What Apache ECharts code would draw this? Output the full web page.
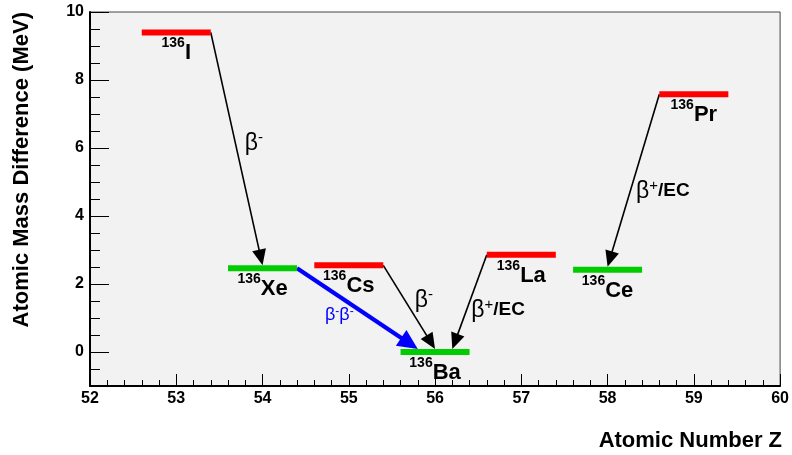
<!DOCTYPE html>
<html><head><meta charset="utf-8">
<script src="https://cdn.jsdelivr.net/npm/echarts@6/dist/echarts.min.js"></script>
<style>html,body{margin:0;padding:0;background:#fff}#c{width:792px;height:455px}</style>
</head><body><div id="c"></div>
<script>
// ---------------- data ----------------
const massNumber = '136';
const nuclides = ['I', 'Xe', 'Cs', 'Ba', 'La', 'Ce', 'Pr'];
const atomicNumber = [53, 54, 55, 56, 57, 58, 59];
const massDifference = [9.40, 2.46, 2.55, 0.00, 2.86, 2.42, 7.58]; // MeV, relative to 136Ba
const isStable = [false, true, false, true, false, true, false];
const decayParent = ['I', 'Cs', 'La', 'Pr', 'Xe'];
const decayDaughter = ['Xe', 'Ba', 'Ba', 'Ce', 'Ba'];
const decayMode = ['β-', 'β-', 'β+/EC', 'β+/EC', 'β-β-'];
const xTickValues = [52, 53, 54, 55, 56, 57, 58, 59, 60];
const yTickValues = [0, 2, 4, 6, 8, 10];
const yMinorTickValues = [-0.5, 0.5, 1, 1.5, 2.5, 3, 3.5, 4.5, 5, 5.5, 6.5, 7, 7.5, 8.5, 9, 9.5];
const xAxisTitle = 'Atomic Number Z';
const yAxisTitle = 'Atomic Mass Difference (MeV)';

// ---------------- layout / style ----------------
const FONT = '"Liberation Sans", Arial, Helvetica, sans-serif';
const levelHalfWidth = 0.4;
const arrowTipShift = [0, 0, 0.2, 0, -0.2];
const modeLabelAt = [[53.90, 6.14], [55.87, 1.52], [56.73, 1.23], [58.64, 4.73], [54.89, 1.08]];
const arrowStyle = {
  single: { color: '#000000', width: 1.6, headLen: 16, headHalf: 7 },
  double: { color: '#0000ff', width: 4.2, headLen: 20, headHalf: 9.5 }
};

const idx = n => nuclides.indexOf(n);
const levelData = nuclides.map((n, i) => [atomicNumber[i], massDifference[i], i]);
const arrowData = decayParent.map((p, k) => {
  const a = idx(p), b = idx(decayDaughter[k]);
  const dir = Math.sign(atomicNumber[b] - atomicNumber[a]);
  return [atomicNumber[a] + dir * levelHalfWidth, massDifference[a],
          atomicNumber[b] + arrowTipShift[k], massDifference[b], k];
});
const modeData = decayMode.map((m, k) => [modeLabelAt[k][0], modeLabelAt[k][1], k]);

function modeRich(str, dbl) {
  let out = '';
  const b = dbl ? 'bb' : 'b', s = dbl ? 'ss' : 's';
  for (let i = 0; i < str.length; i++) {
    const c = str[i];
    if (c === 'β') {
      out += '{' + b + '|β}';
      const n = str[i + 1];
      if (n === '-' || n === '+') { out += '{' + s + '|' + n + '}'; i++; }
    } else {
      out += '{e|' + str.slice(i) + '}';
      break;
    }
  }
  return out;
}

const chart = echarts.init(document.getElementById('c'), null, { renderer: 'canvas' });

const axisFont = { fontFamily: FONT, fontSize: 16, fontWeight: 'bold', color: '#000' };

chart.setOption({
  animation: false,
  backgroundColor: '#ffffff',
  grid: { left: 90, right: 10, top: 12, bottom: 69, show: true, backgroundColor: '#f2f2f2', borderColor: '#444', borderWidth: 1 },
  xAxis: {
    type: 'value', min: 52, max: 60, interval: 1,
    axisLine: { show: true, onZero: false, lineStyle: { color: '#000', width: 2 } },
    axisTick: { show: true, inside: true, length: 12, lineStyle: { color: '#000', width: 1 } },
    minorTick: { show: true, splitNumber: 5, length: 6, lineStyle: { color: '#000', width: 1 } },
    axisLabel: Object.assign({ margin: 5, customValues: xTickValues }, axisFont),
    splitLine: { show: false }
  },
  yAxis: [{
    type: 'value', min: -1, max: 10, position: 'left',
    axisLine: { show: true, onZero: false, lineStyle: { color: '#000', width: 2 } },
    axisTick: { show: true, inside: true, length: 19, customValues: yTickValues, lineStyle: { color: '#000', width: 1 } },
    axisLabel: Object.assign({ margin: 6, customValues: yTickValues }, axisFont),
    splitLine: { show: false }
  }, {
    type: 'value', min: -1, max: 10, position: 'left', offset: 0,
    axisLine: { show: false },
    axisTick: { show: true, inside: true, length: 10, customValues: yMinorTickValues, lineStyle: { color: '#000', width: 1 } },
    axisLabel: { show: false },
    splitLine: { show: false }
  }],
  graphic: [
    { type: 'text', x: 782, y: 441, style: { text: xAxisTitle, font: 'bold 22px ' + FONT, fill: '#000', align: 'right', verticalAlign: 'middle' } },
    { type: 'text', x: 22, y: 12, rotation: Math.PI / 2, style: { text: yAxisTitle, font: 'bold 22px ' + FONT, fill: '#000', align: 'right', verticalAlign: 'middle' } }
  ],
  series: [
    {
      type: 'custom', name: 'decays', coordinateSystem: 'cartesian2d', z: 2,
      encode: { x: [0, 2], y: [1, 3] },
      data: arrowData,
      renderItem(params, api) {
        const k = api.value(4);
        const p1 = api.coord([api.value(0), api.value(1)]);
        const p2 = api.coord([api.value(2), api.value(3)]);
        p2[1] -= 3;
        const st = decayMode[k] === 'β-β-' ? arrowStyle.double : arrowStyle.single;
        const dx = p2[0] - p1[0], dy = p2[1] - p1[1], len = Math.hypot(dx, dy);
        const ux = dx / len, uy = dy / len, nx = -uy, ny = ux;
        const bx = p2[0] - ux * st.headLen, by = p2[1] - uy * st.headLen;
        return { type: 'group', children: [
          { type: 'line', shape: { x1: p1[0], y1: p1[1], x2: bx + ux * 2, y2: by + uy * 2 }, style: { stroke: st.color, lineWidth: st.width } },
          { type: 'polygon', shape: { points: [[p2[0], p2[1]], [bx + nx * st.headHalf, by + ny * st.headHalf], [bx - nx * st.headHalf, by - ny * st.headHalf]] }, style: { fill: st.color } }
        ] };
      }
    },
    {
      type: 'custom', name: 'levels', coordinateSystem: 'cartesian2d', z: 3,
      encode: { x: 0, y: 1 },
      data: levelData,
      renderItem(params, api) {
        const i = api.value(2);
        const l = api.coord([api.value(0) - levelHalfWidth, api.value(1)]);
        const r = api.coord([api.value(0) + levelHalfWidth, api.value(1)]);
        return { type: 'group', children: [
          { type: 'rect', shape: { x: l[0], y: l[1] - 3, width: r[0] - l[0], height: 6 }, style: { fill: isStable[i] ? '#00cc00' : '#ff0000' } },
          { type: 'text', x: (l[0] + r[0]) / 2, y: l[1] + 4, style: {
            text: '{s|' + massNumber + '}{m|' + nuclides[i] + '}', align: 'center', verticalAlign: 'top', fill: '#000',
            rich: {
              s: { fontFamily: FONT, fontSize: 14, fontWeight: 'bold', fill: '#000', verticalAlign: 'top', lineHeight: 14 },
              m: { fontFamily: FONT, fontSize: 22, fontWeight: 'bold', fill: '#000', verticalAlign: 'bottom', lineHeight: 28 }
            } } }
        ] };
      }
    },
    {
      type: 'custom', name: 'modes', coordinateSystem: 'cartesian2d', z: 4,
      encode: { x: 0, y: 1 },
      data: modeData,
      renderItem(params, api) {
        const k = api.value(2);
        const p = api.coord([api.value(0), api.value(1)]);
        const dbl = decayMode[k] === 'β-β-';
        const col = dbl ? '#0000ff' : '#000';
        return { type: 'text', x: p[0], y: p[1], style: {
          text: modeRich(decayMode[k], dbl), align: 'center', verticalAlign: 'middle', fill: col,
          rich: {
            b: { fontFamily: FONT, fontSize: 23, fill: col, lineHeight: 26 },
            s: { fontFamily: FONT, fontSize: 15, fill: col, verticalAlign: 'top', lineHeight: 15 },
            e: { fontFamily: FONT, fontSize: 19, fontWeight: 'bold', fill: col, lineHeight: 26 },
            bb: { fontFamily: FONT, fontSize: 18, fill: col, lineHeight: 20 },
            ss: { fontFamily: FONT, fontSize: 12, fill: col, verticalAlign: 'top', lineHeight: 12 }
          } } };
      }
    }
  ]
});
</script></body></html>
